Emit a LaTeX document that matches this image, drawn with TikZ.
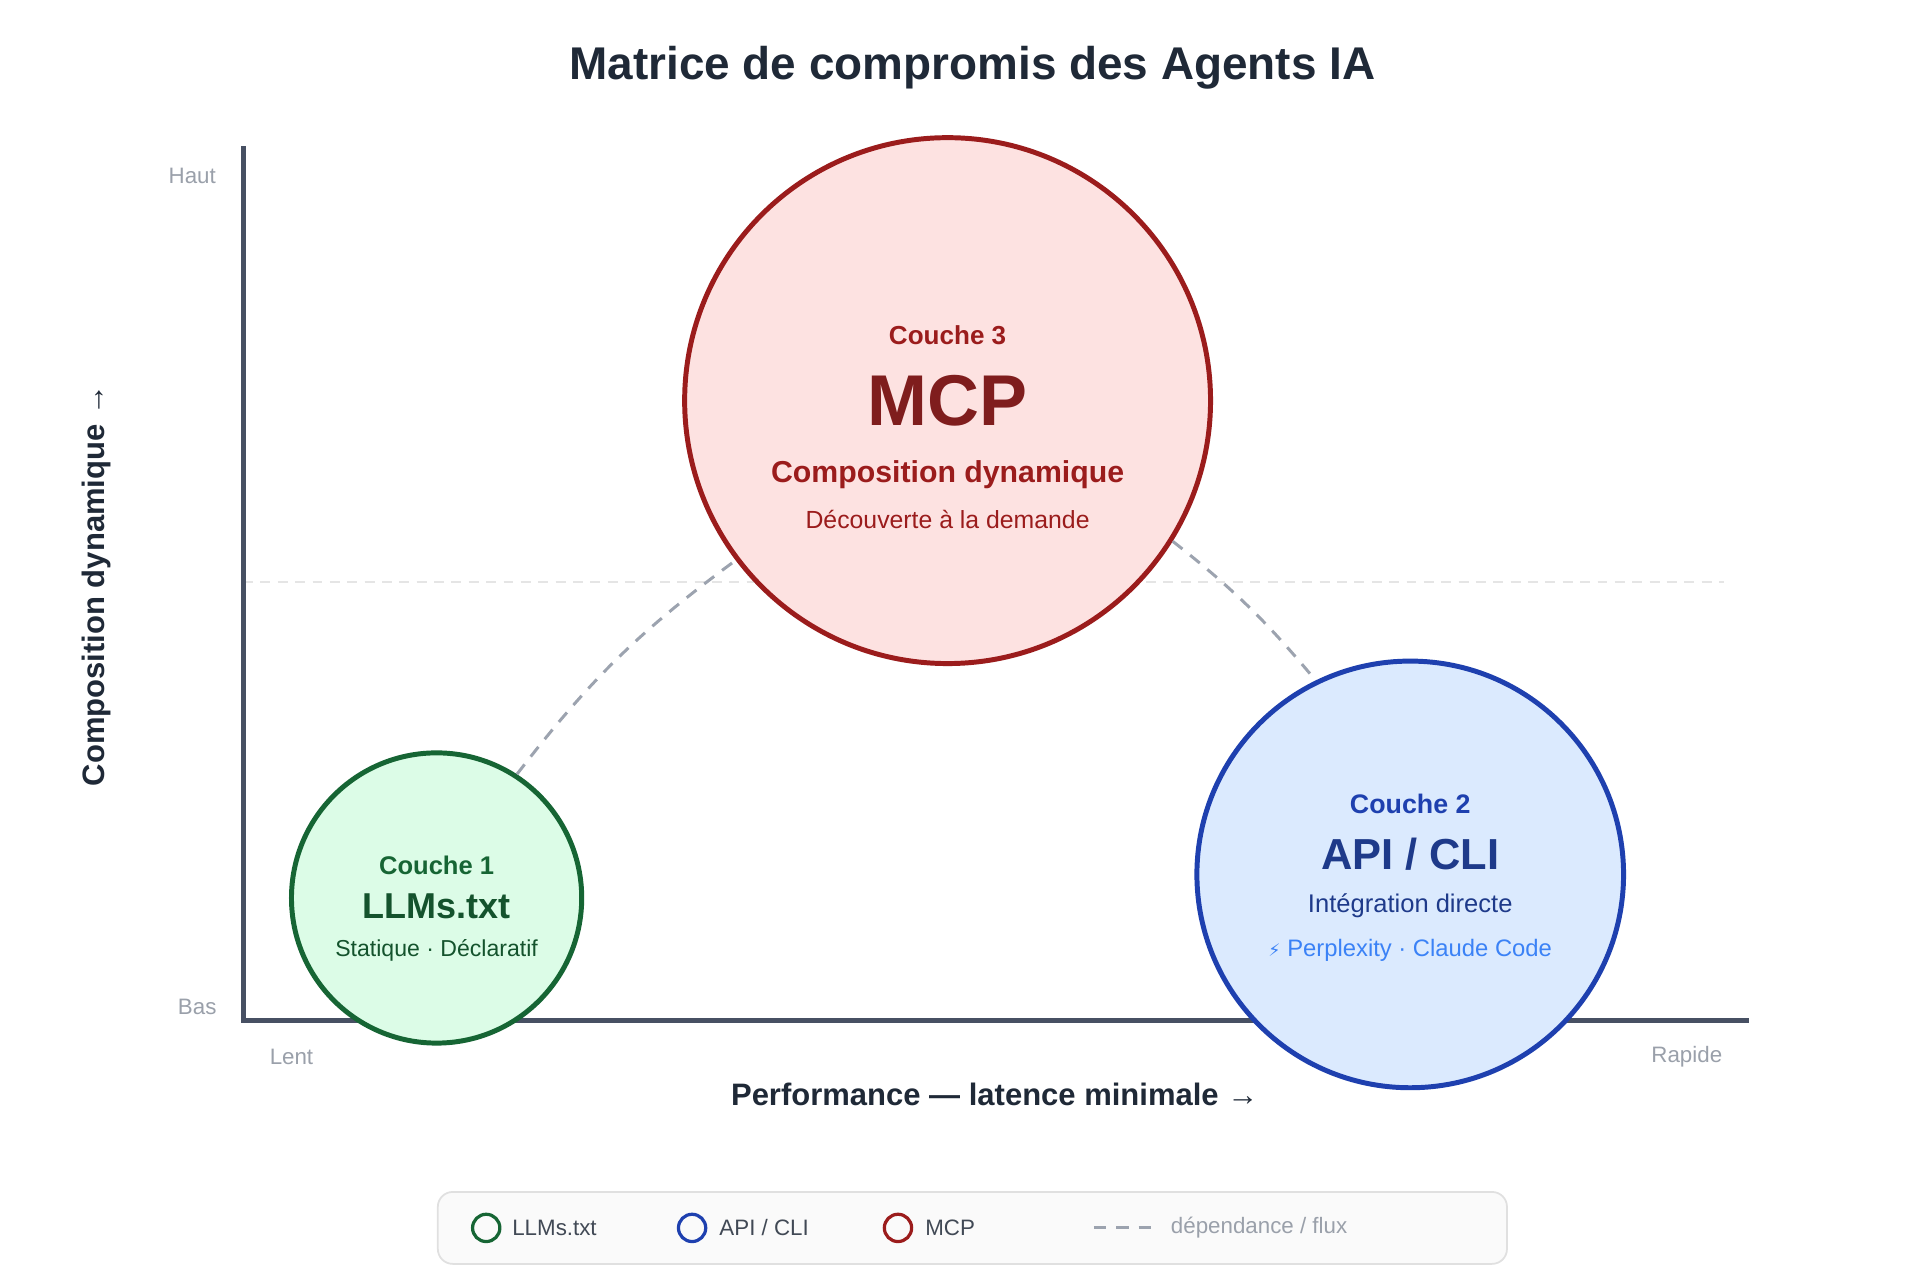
\documentclass[tikz,border=0pt]{standalone}
\usepackage{fontspec}
\setmainfont{Liberation Sans}
\newfontfamily\symf{DejaVu Sans}
\definecolor{axis}{HTML}{475063}
\definecolor{dark}{HTML}{1F2937}
\definecolor{lgray}{HTML}{9AA0AA}
\definecolor{dgray}{HTML}{9CA3AF}
\definecolor{rfill}{HTML}{FDE2E1}\definecolor{rstroke}{HTML}{9B1C1C}
\definecolor{gfill}{HTML}{DCFCE7}\definecolor{gstroke}{HTML}{166534}
\definecolor{bfill}{HTML}{DBEAFE}\definecolor{bstroke}{HTML}{1E40AF}
\definecolor{btext}{HTML}{1E3A8A}\definecolor{blight}{HTML}{3B82F6}
\definecolor{rtext}{HTML}{7F1D1D}\definecolor{gtext}{HTML}{14532D}
\newcommand{\fs}[1]{\fontsize{#1}{#1}\selectfont}
\begin{document}
\begin{tikzpicture}[x=0.5pt,y=-0.5pt,
  bub/.style={circle,line width=2pt,inner sep=0pt},
  dep/.style={dgray,line width=1.2pt,dash pattern=on 5pt off 4pt},
  tick/.style={text=lgray,font=\fs{9}},
  lg/.style={circle,line width=1.3pt,minimum size=11pt,inner sep=0pt},
  lt/.style={anchor=west,font=\fs{9},text=dark!85}]
\useasboundingbox (0,0) rectangle (1548,1026);
\fill[white] (0,0) rectangle (1548,1026);
\node (title) at (784,55) {\fs{18.5}\bfseries\color{dark}Matrice de compromis des Agents IA};
\draw[black!10,line width=0.8pt,dash pattern=on 4pt off 3pt] (196,469) -- (1390,469);
\draw[axis,line width=2pt] (196,118) -- (196,823) -- (1410,823);
\node[tick] at (155,142) {Haut};
\node[tick] at (159,812) {Bas};
\node[tick] at (235,852) {Lent};
\node[tick] at (1360,852) {Rapide};
\node[rotate=90,font=\fs{12.5}\bfseries,text=dark] at (78,472) {Composition dynamique →};
\node[font=\fs{12.5}\bfseries,text=dark] at (802,882) {Performance — latence minimale →};
% bubbles
\node[bub,fill=rfill,draw=rstroke,minimum size=212pt] (mcp) at (764,323) {};
\node[bub,fill=gfill,draw=gstroke,minimum size=117pt] (llm) at (352,724) {};
\node[bub,fill=bfill,draw=bstroke,minimum size=172pt] (api) at (1137,705) {};
\draw[dep] (llm.57) to[bend left=8] (mcp.217);
\draw[dep] (mcp.-32) to[bend left=6] (api.116);
% texts
\node[text=rstroke,font=\fs{10.5}\bfseries] at (764,270) {Couche 3};
\node[text=rtext,font=\fs{29}\bfseries] at (764,323) {MCP};
\node[text=rstroke,font=\fs{12.2}\bfseries] at (764,383) {Composition dynamique};
\node[text=rstroke,font=\fs{10}] at (764,419) {Découverte à la demande};
\node[text=gstroke,font=\fs{10.3}\bfseries] at (352,698) {Couche 1};
\node[text=gtext,font=\fs{14.5}\bfseries] at (352,731) {LLMs.txt};
\node[text=gtext,font=\fs{9.3}] at (352,766) {Statique · Déclaratif};
\node[text=bstroke,font=\fs{10.8}\bfseries] at (1137,648) {Couche 2};
\node[text=btext,font=\fs{17.5}\bfseries] at (1137,689) {API / CLI};
\node[text=btext,font=\fs{10.3}] at (1137,730) {Intégration directe};
\node[text=blight,font=\fs{9.6}] at (1137,766) {{\symf\fs{7}⚡} Perplexity · Claude Code};
% legend
\draw[fill=black!2,draw=black!12,line width=0.7pt,rounded corners=6pt] (353,961) rectangle (1215,1019);
\node[lg,draw=gstroke] (l1) at (392,990) {};
\node[lt] at (406,990) {LLMs.txt};
\node[lg,draw=bstroke] (l2) at (558,990) {};
\node[lt] at (573,990) {API / CLI};
\node[lg,draw=rstroke] (l3) at (724,990) {};
\node[lt] at (739,990) {MCP};
\coordinate (d1) at (882,990); \coordinate (d2) at (932,990);
\draw[dep] (d1) -- (d2);
\node[lt,text=lgray] at (937,990) {dépendance / flux};
\end{tikzpicture}
\end{document}
